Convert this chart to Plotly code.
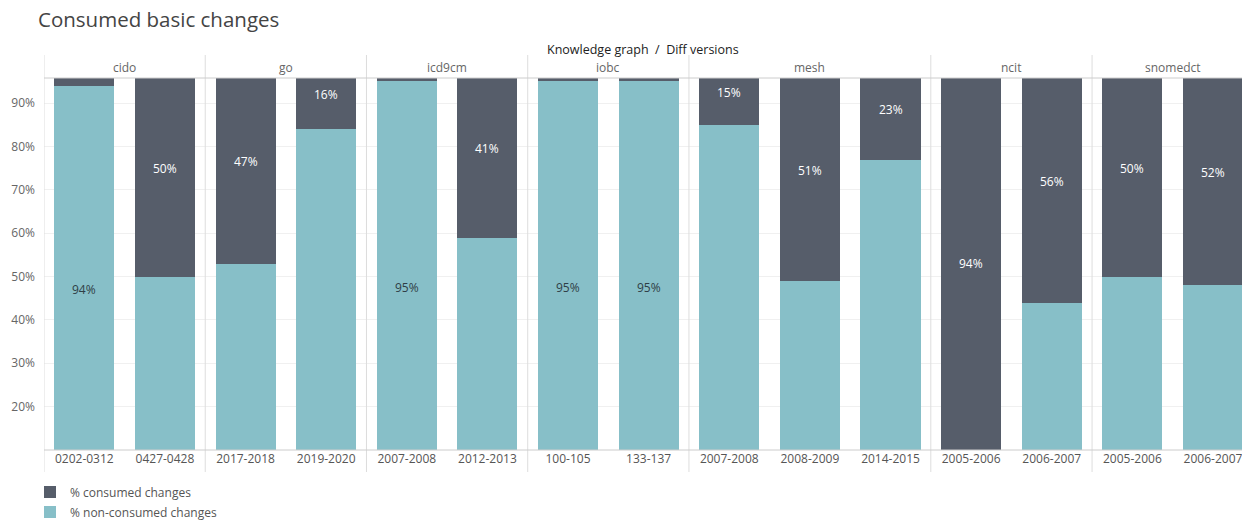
import plotly.graph_objects as go

# Knowledge graphs and their diff versions (facets)
graphs = ["cido", "go", "icd9cm", "iobc", "mesh", "ncit", "snomedct"]
versions = [
    ["0202-0312", "0427-0428"],
    ["2017-2018", "2019-2020"],
    ["2007-2008", "2012-2013"],
    ["100-105", "133-137"],
    ["2007-2008", "2008-2009", "2014-2015"],
    ["2005-2006", "2006-2007"],
    ["2005-2006", "2006-2007"],
]

# Percentages per diff version (in facet order)
consumed = [6, 50, 47, 16, 5, 41, 5, 5, 15, 51, 23, 94, 56, 50, 52]
non_consumed = [94, 50, 53, 84, 95, 59, 95, 95, 85, 49, 77, 6, 44, 50, 48]
# Which segment carries the value label
label_on = ["non", "cons", "cons", "cons", "non", "cons", "non", "non",
            "cons", "cons", "cons", "cons", "cons", "cons", "cons"]

DARK = "#565D6A"
TEAL = "#87BFC8"
FONT = "Open Sans"

W, H = 1242, 521
L, R, T, B = 44, 0, 78, 71
plot_h = H - T - B


def py(pix):
    """Pixel row -> paper y."""
    return (H - B - pix) / plot_h


# flatten facet structure into bar positions
xs, ticktext, group_bounds = [], [], []
i = 0
for vers in versions:
    start = i
    for v in vers:
        xs.append(i)
        ticktext.append(v)
        i += 1
    group_bounds.append((start, i - 1))

fig = go.Figure()
fig.add_trace(go.Bar(x=xs, y=non_consumed, name="% non-consumed changes",
                     marker=dict(color=TEAL, line=dict(width=0)), width=0.745,
                     legend="legend2"))
fig.add_trace(go.Bar(x=xs, y=consumed, name="% consumed changes",
                     marker=dict(color=DARK, line=dict(width=0)), width=0.745,
                     legend="legend"))

annotations = []
# value labels centred in the labelled segment
for x, c, n, which in zip(xs, consumed, non_consumed, label_on):
    if which == "non":
        annotations.append(dict(x=x, y=n / 2, text=f"{n}%", showarrow=False,
                                font=dict(size=12, color="#2F3E46", family=FONT)))
    else:
        annotations.append(dict(x=x, y=n + c / 2, text=f"{c}%", showarrow=False,
                                font=dict(size=12, color="white", family=FONT)))

# facet headers
for g, (a, b) in zip(graphs, group_bounds):
    annotations.append(dict(x=(a + b) / 2, y=py(67), xref="x", yref="paper",
                            xanchor="center", yanchor="middle",
                            text=g, showarrow=False,
                            font=dict(size=12, color="#666", family=FONT)))
annotations.append(dict(x=0.5, y=py(49), xref="paper", yref="paper",
                        xanchor="center", yanchor="middle",
                        text="Knowledge graph  /  Diff versions", showarrow=False,
                        font=dict(size=12.5, color="#222", family=FONT)))

shapes = []
# facet separators (including left edge)
for a, b in group_bounds:
    shapes.append(dict(type="line", xref="x", yref="paper", x0=a - 0.5, x1=a - 0.5,
                       y0=py(55), y1=py(472), line=dict(color="#DDDDDD", width=1)))
# top border of the pane
shapes.append(dict(type="line", xref="paper", yref="paper", x0=0, x1=1, y0=1, y1=1,
                   line=dict(color="#CCCCCC", width=1)))
# bottom axis line
shapes.append(dict(type="line", xref="paper", yref="paper", x0=0, x1=1, y0=0, y1=0,
                   line=dict(color="#CCCCCC", width=1)))

legend_common = dict(x=30 / W, xanchor="left", xref="container", yref="container",
                     yanchor="middle", orientation="v",
                     font=dict(size=12, color="#555", family=FONT),
                     bgcolor="rgba(0,0,0,0)")

fig.update_layout(
    width=W, height=H,
    margin=dict(l=L, r=R, t=T, b=B, autoexpand=False),
    barmode="stack",
    showlegend=True,
    plot_bgcolor="white", paper_bgcolor="white",
    font=dict(family=FONT, size=12, color="#555"),
    title=dict(text="Consumed basic changes", x=38 / W, xref="container", xanchor="left",
               y=1 - 20 / H, yref="container", yanchor="middle",
               font=dict(size=20.5, color="#444", family=FONT)),
    xaxis=dict(tickvals=xs, ticktext=ticktext, range=[-0.5, 14.36],
               showgrid=False, zeroline=False, ticks="", showline=False,
               ticklabeloverflow="allow", automargin=False,
               tickfont=dict(size=12, color="#555")),
    yaxis=dict(range=[10, 95.8], tickvals=[20, 30, 40, 50, 60, 70, 80, 90],
               ticktext=[f"{v}%" for v in [20, 30, 40, 50, 60, 70, 80, 90]],
               showgrid=True, gridcolor="#F0F0F0", zeroline=False, ticks="",
               automargin=False,
               ticklabelstandoff=8, tickfont=dict(size=12, color="#666")),
    legend=dict(y=1 - 492 / H, visible=True, **legend_common),
    legend2=dict(y=1 - 512 / H, visible=True, **legend_common),
    annotations=annotations,
    shapes=shapes,
    bargap=0,
)

fig.write_html("out.html")
